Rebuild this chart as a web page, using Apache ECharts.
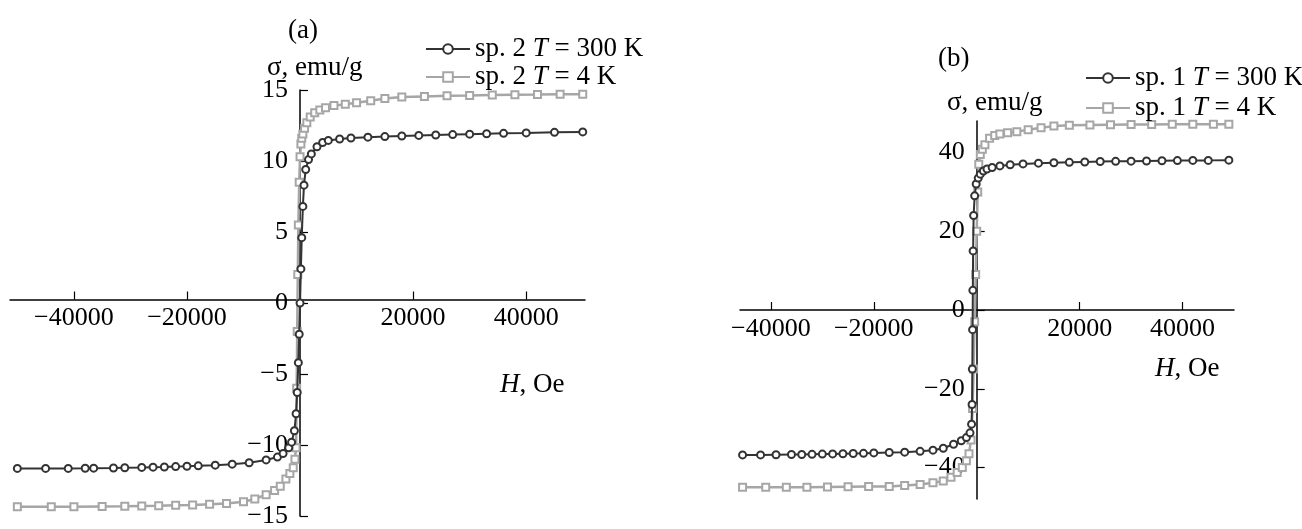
<!DOCTYPE html>
<html>
<head>
<meta charset="utf-8">
<title>sigma(H)</title>
<script src="https://cdn.jsdelivr.net/npm/echarts@6/dist/echarts.min.js"></script>
<style>
html, body { margin: 0; padding: 0; background: #fff; }
#main { width: 1302px; height: 529px; }
</style>
</head>
<body>
<div id="main"></div>
<script>
// панель (a): sp. 2
var hA300 = [-50000,-45000,-41000,-38000,-36500,-33000,-31000,-28000,-26000,-24000,-22000,-20000,-18000,-15000,-12000,-9000,-6000,-4000,-3000,-2000,-1500,-1000,-700,-500,-300,-150,0,150,300,500,700,1000,1500,2000,3000,4000,5000,7000,9000,12000,15000,18000,21000,24000,27000,30000,33000,36000,40000,45000,50000];
var sigA300 = [-11.65,-11.65,-11.65,-11.64,-11.63,-11.62,-11.6,-11.58,-11.56,-11.55,-11.52,-11.5,-11.47,-11.42,-11.35,-11.25,-11.05,-10.85,-10.6,-10.2,-9.8,-9.0,-7.8,-6.3,-4.2,-2.2,0,2.4,4.6,6.8,8.3,9.4,10.1,10.5,11.0,11.3,11.45,11.55,11.62,11.68,11.72,11.76,11.8,11.83,11.86,11.89,11.92,11.95,11.98,12.02,12.05];

var hA4 = [-50000,-44000,-40000,-35000,-31000,-28000,-25000,-22000,-19000,-16000,-13000,-10000,-8000,-6000,-4500,-3500,-2500,-1800,-1200,-900,-700,-600,-500,-400,-300,-150,0,150,300,500,800,1200,1800,2600,3500,4500,6000,8000,10000,12500,15000,18000,22000,26000,30000,34000,38000,42000,46000,50000];
var sigA4 = [-14.35,-14.35,-14.34,-14.33,-14.32,-14.3,-14.28,-14.25,-14.22,-14.18,-14.12,-14.0,-13.8,-13.5,-13.2,-12.9,-12.4,-12.0,-11.6,-11.0,-10.2,-6.0,-2.0,2.0,5.5,8.5,10.3,11.2,11.6,11.9,12.3,12.7,13.1,13.4,13.6,13.75,13.9,14.0,14.1,14.25,14.4,14.5,14.55,14.6,14.62,14.65,14.67,14.68,14.7,14.7];

// панель (b): sp. 1
var hB300 = [-45500,-42000,-39000,-36000,-34000,-32000,-30000,-28000,-26000,-24000,-22000,-20000,-17000,-14000,-11000,-8500,-6500,-4500,-3000,-2000,-1300,-1000,-900,-850,-800,-750,-700,-600,-400,-100,300,700,1300,2000,3000,4500,6500,9000,12000,15000,18000,21000,24000,27000,30000,33000,36000,39000,42000,45000,49000];
var sigB300 = [-36.8,-36.8,-36.75,-36.7,-36.7,-36.65,-36.6,-36.55,-36.5,-36.45,-36.4,-36.3,-36.2,-36.1,-35.9,-35.6,-35.1,-34.1,-33.2,-32.4,-31.2,-29.0,-24.0,-15.0,-5.0,5.0,15.0,24.0,29.0,32.0,33.5,34.5,35.3,35.8,36.2,36.6,36.9,37.1,37.3,37.4,37.5,37.6,37.7,37.75,37.8,37.85,37.9,37.95,38.0,38.0,38.05];

var hB4 = [-45500,-41000,-37000,-33000,-29000,-25000,-21000,-17000,-14000,-11000,-8500,-6500,-5000,-3800,-2800,-2000,-1500,-1100,-800,-600,-400,-200,0,200,400,700,1100,1600,2500,3500,4500,6000,7800,10000,12500,15000,18000,22000,26000,30000,34000,38000,42000,46000,49000];
var sigB4 = [-45.0,-45.0,-45.0,-45.0,-44.95,-44.9,-44.85,-44.8,-44.6,-44.3,-43.9,-43.4,-42.5,-41.3,-40.0,-38.3,-36.5,-33.0,-25.0,-15.0,-3.0,9.0,20.0,30.0,37.0,39.5,40.8,42.0,43.6,44.3,44.7,45.0,45.3,45.8,46.3,46.7,46.9,47.0,47.05,47.1,47.1,47.15,47.2,47.2,47.2];

// подписи делений
var xTicksA = [-40000, -20000, 20000, 40000];
var xTicksB = [-40000, -20000, 20000, 40000];
var yTicksB = [-40, -20, 0, 20, 40];

var FONT = '"Liberation Serif", "Times New Roman", serif';
var DARK = '#333333';
var LIGHT = '#a6a6a6';
var TICK_FS = 26;
var TEXT_FS = 27;

function pairs(xs, ys) {
	var out = [];
	for (var i = 0; i < xs.length; i++) {
		out.push([xs[i], ys[i]]);
	}
	return out;
}

function minus(v) {
	return v < 0 ? '\u2212' + Math.abs(v) : String(v);
}

// оси проходят через ноль: сдвигаем их внутрь сетки через offset
function xAxisCfg(idx, min, max, ticks, offset) {
	return {
		gridIndex: idx, type: 'value', min: min, max: max, position: 'bottom', offset: offset,
		axisLine: { onZero: false, lineStyle: { color: '#000', width: 1.5 } },
		axisTick: { inside: true, length: 8, customValues: ticks, lineStyle: { color: '#000', width: 1.2 } },
		axisLabel: { customValues: ticks, formatter: minus, color: '#000', fontFamily: FONT, fontSize: TICK_FS, margin: 6 },
		splitLine: { show: false }
	};
}

function yAxisCfg(idx, min, max, offset, extra) {
	var cfg = {
		gridIndex: idx, type: 'value', min: min, max: max, position: 'left', offset: offset,
		axisLine: { onZero: false, lineStyle: { color: '#000', width: 1.5 } },
		axisTick: { inside: true, length: 8, lineStyle: { color: '#000', width: 1.2 } },
		axisLabel: { formatter: minus, color: '#000', fontFamily: FONT, fontSize: TICK_FS, margin: 12 },
		splitLine: { show: false }
	};
	if (extra.interval) cfg.interval = extra.interval;
	if (extra.ticks) {
		cfg.axisTick.customValues = extra.ticks;
		cfg.axisLabel.customValues = extra.ticks;
	}
	return cfg;
}

function lineSeries(name, idx, xs, ys, color, symbol, width, z) {
	return {
		name: name, type: 'line', xAxisIndex: idx, yAxisIndex: idx,
		data: pairs(xs, ys),
		symbol: symbol, symbolSize: 7, showSymbol: true,
		lineStyle: { color: color, width: width },
		itemStyle: { color: color, borderColor: color, borderWidth: 1.5 },
		z: z
	};
}

function txt(size) {
	return { fontFamily: FONT, fontSize: size, fontWeight: 'normal', color: '#000',
		rich: { i: { fontStyle: 'italic', fontFamily: FONT, fontSize: size, color: '#000' } } };
}

function legendName(name) {
	return name.replace(' T ', ' {i|T} ');
}

var myChart = echarts.init(document.getElementById('main'));
var option = {
	animation: false,
	backgroundColor: '#fff',
	title: [
		{ text: '(a)', left: 283, top: 12, textStyle: txt(TEXT_FS) },
		{ text: '(b)', left: 933, top: 40, textStyle: txt(TEXT_FS) },
		{ text: '\u03c3, emu/g', left: 262, top: 49, textStyle: txt(TEXT_FS) },
		{ text: '\u03c3, emu/g', left: 942, top: 84, textStyle: txt(TEXT_FS) },
		{ text: '{i|H}, Oe', left: 495, top: 366, textStyle: txt(TEXT_FS) },
		{ text: '{i|H}, Oe', left: 1150, top: 350, textStyle: txt(TEXT_FS) }
	],
	legend: [
		{
			data: ['sp. 2 T = 300 K', 'sp. 2 T = 4 K'],
			orient: 'vertical', left: 420, top: 30, itemWidth: 44, itemHeight: 12, itemGap: 0,
			formatter: legendName,
			textStyle: Object.assign(txt(TEXT_FS), { lineHeight: 28 })
		},
		{
			data: ['sp. 1 T = 300 K', 'sp. 1 T = 4 K'],
			orient: 'vertical', left: 1080, top: 58, itemWidth: 44, itemHeight: 12, itemGap: 0,
			formatter: legendName,
			textStyle: Object.assign(txt(TEXT_FS), { lineHeight: 30 })
		}
	],
	grid: [
		{ left: 10, top: 90, width: 575, height: 433 },
		{ left: 740, top: 121, width: 494, height: 378 }
	],
	xAxis: [
		xAxisCfg(0, -51300, 50400, xTicksA, -216.5),
		xAxisCfg(1, -46000, 50000, xTicksB, -189)
	],
	yAxis: [
		yAxisCfg(0, -15, 15, -290, { interval: 5 }),
		yAxisCfg(1, -48, 48, -236.7, { ticks: yTicksB })
	],
	series: [
		lineSeries('sp. 2 T = 4 K', 0, hA4, sigA4, LIGHT, 'emptyRect', 2.5, 2),
		lineSeries('sp. 2 T = 300 K', 0, hA300, sigA300, DARK, 'emptyCircle', 2, 3),
		lineSeries('sp. 1 T = 4 K', 1, hB4, sigB4, LIGHT, 'emptyRect', 2.5, 2),
		lineSeries('sp. 1 T = 300 K', 1, hB300, sigB300, DARK, 'emptyCircle', 2, 3)
	]
};

myChart.setOption(option);
window.onresize = myChart.resize;
</script>
</body>
</html>
